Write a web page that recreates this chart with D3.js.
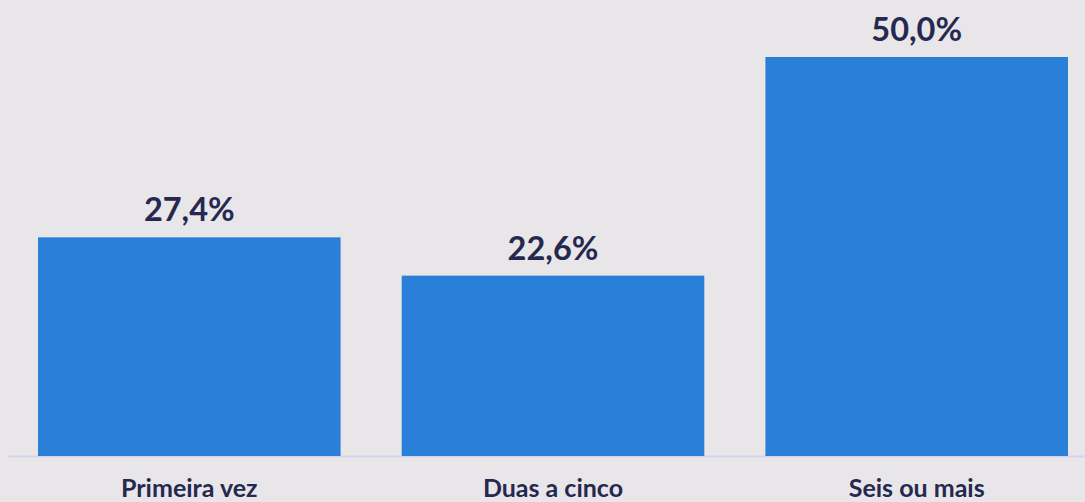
<!DOCTYPE html>
<html><head><meta charset="utf-8">
<script src="https://cdn.jsdelivr.net/npm/d3@7"></script>
<style>html,body{margin:0;padding:0;background:#e8e6e9;}</style>
</head><body>
<svg id="c" width="1085" height="502"></svg>
<script>
const categories = ["Primeira vez", "Duas a cinco", "Seis ou mais"];
const values = [27.4, 22.6, 50.0];
const labels = ["27,4%", "22,6%", "50,0%"];

const svg = d3.select("#c");
svg.append("rect").attr("width",1085).attr("height",502).attr("fill","#e8e6e9");
const baseY = 456;
const x = d3.scaleBand().domain(categories).range([38, 1068]).paddingInner(0.168).paddingOuter(0);
const y = d3.scaleLinear().domain([0, 50]).range([baseY, 57]);

svg.append("line").attr("x1",8).attr("x2",1085).attr("y1",baseY+0.5).attr("y2",baseY+0.5)
  .attr("stroke","#d3d3ea").attr("stroke-width",2);

svg.selectAll("rect.bar").data(values).enter().append("rect").attr("class","bar")
  .attr("x",(d,i)=>x(categories[i])).attr("width",x.bandwidth())
  .attr("y",d=>y(d)).attr("height",d=>baseY-y(d)).attr("fill","#2a7fd8");

svg.selectAll("text.val").data(values).enter().append("text").attr("class","val")
  .attr("x",(d,i)=>x(categories[i])+x.bandwidth()/2).attr("y",d=>y(d)-16)
  .attr("text-anchor","middle").attr("font-family","Lato, 'Open Sans', sans-serif")
  .attr("font-weight","bold").attr("font-size",32.5).attr("fill","#25284f")
  .text((d,i)=>labels[i]);

svg.selectAll("text.cat").data(categories).enter().append("text").attr("class","cat")
  .attr("x",d=>x(d)+x.bandwidth()/2).attr("y",497)
  .attr("text-anchor","middle").attr("font-family","Lato, 'Open Sans', sans-serif")
  .attr("font-weight","bold").attr("font-size",25).attr("fill","#25284f")
  .text(d=>d);
</script>
</body></html>
